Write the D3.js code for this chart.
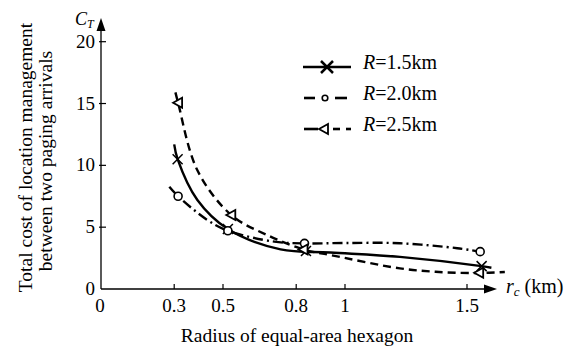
<!DOCTYPE html>
<html><head><meta charset="utf-8">
<script src="https://cdn.jsdelivr.net/npm/d3@7"></script>
<style>body{margin:0;background:#fff}svg{display:block}</style>
</head><body><svg id="c" width="588" height="350"></svg>
<script>
// Tick values
const xTicks = [0, 0.3, 0.5, 0.8, 1, 1.5];
const xTickLabels = ["0", "0.3", "0.5", "0.8", "1", "1.5"];
const yTicks = [0, 5, 10, 15, 20];
// Series names
const seriesNames = ["1.5km", "2.0km", "2.5km"];
// Marker values (radius, cost) per series
const markR15 = [[0.314, 10.5], [0.52, 4.85], [0.84, 3.07], [1.56, 1.85]];
const markR20 = [[0.316, 7.5], [0.52, 4.71], [0.834, 3.69], [1.554, 3.02]];
const markR25 = [[0.316, 15.06], [0.534, 5.98], [0.83, 3.2], [1.55, 1.32]];
// Fitted curve values
const curveR15 = [[0.30, 11.7], [0.314, 10.5], [0.395, 7.2], [0.52, 4.85], [0.736, 3.2], [0.94, 2.95], [1.225, 2.6], [1.56, 1.85], [1.6, 1.72]];
const curveR20 = [[0.28, 8.27], [0.316, 7.5], [0.436, 5.58], [0.52, 4.71], [0.71, 3.83], [0.834, 3.69], [1.0, 3.72], [1.225, 3.7], [1.46, 3.3], [1.554, 3.02]];
const curveR25 = [[0.305, 15.9], [0.316, 15.06], [0.395, 9.6], [0.534, 5.98], [0.68, 4.37], [0.83, 3.2], [0.94, 2.75], [1.225, 1.67], [1.4, 1.36], [1.55, 1.3], [1.655, 1.37]];

const FONT = "Liberation Serif";
const svg = d3.select("#c");
const x = d3.scaleLinear().domain([0, 1.6]).range([101, 101 + 1.6 * 244]);
const y = d3.scaleLinear().domain([0, 20]).range([289, 41.7]);

function txt(sel) { return sel.append("text").attr("font-family", FONT).attr("fill", "#000"); }

// axes lines
const g = svg.append("g");
g.append("line").attr("x1", x(0)).attr("x2", 490).attr("y1", y(0)).attr("y2", y(0)).attr("stroke", "#000").attr("stroke-width", 1.3);
g.append("path").attr("d", `M497,${y(0)} L484,${y(0) - 4.5} L484,${y(0) + 4.5} Z`).attr("fill", "#000");
g.append("line").attr("x1", x(0)).attr("x2", x(0)).attr("y1", y(0)).attr("y2", 26).attr("stroke", "#000").attr("stroke-width", 1.3);
g.append("path").attr("d", `M${x(0)},18 L${x(0) - 4.5},31 L${x(0) + 4.5},31 Z`).attr("fill", "#000");

// ticks
xTicks.forEach((t, i) => {
  if (t > 0) g.append("line").attr("x1", x(t)).attr("x2", x(t)).attr("y1", y(0)).attr("y2", y(0) - 5).attr("stroke", "#000").attr("stroke-width", 1.2);
  txt(g).attr("x", x(t) - (t === 0 ? 1 : 0)).attr("y", 312).attr("text-anchor", "middle").attr("font-size", 19).text(xTickLabels[i]);
});
yTicks.forEach(t => {
  if (t > 0) g.append("line").attr("x1", x(0) - 2).attr("x2", x(0) + 5).attr("y1", y(t)).attr("y2", y(t)).attr("stroke", "#000").attr("stroke-width", 1.2);
  txt(g).attr("x", 95).attr("y", y(t) + 6).attr("text-anchor", "end").attr("font-size", 19).text(t);
});

// axis labels
const ct = txt(g).attr("x", 75).attr("y", 25).attr("font-size", 18);
ct.append("tspan").attr("font-style", "italic").text("C");
ct.append("tspan").attr("font-style", "italic").attr("font-size", 12).attr("dy", 3).text("T");

const rc = txt(g).attr("x", 506).attr("y", 293).attr("font-size", 20);
rc.append("tspan").attr("font-style", "italic").text("r");
rc.append("tspan").attr("font-style", "italic").attr("font-size", 13).attr("dy", 3).text("c");
rc.append("tspan").attr("dy", -3).text(" (km)");

txt(g).attr("x", 297).attr("y", 342).attr("text-anchor", "middle").attr("font-size", 19.5).text("Radius of equal-area hexagon");
txt(g).attr("transform", "translate(32,157.5) rotate(-90)").attr("text-anchor", "middle").attr("font-size", 19.5).text("Total cost of location management");
txt(g).attr("transform", "translate(52,161) rotate(-90)").attr("text-anchor", "middle").attr("font-size", 19.5).text("between two paging arrivals");

// series
const line = d3.line().x(d => x(d[0])).y(d => y(d[1])).curve(d3.curveCatmullRom.alpha(0.5));
const styles = [
  { curve: curveR15, marks: markR15, dash: null, m: "x" },
  { curve: curveR20, marks: markR20, dash: "10,4,2,4", m: "o" },
  { curve: curveR25, marks: markR25, dash: "8,5", m: "t" }
];
function marker(sel, type, cx, cy, big) {
  if (type === "x") {
    const s = big ? 6 : 5;
    sel.append("path").attr("d", `M${cx - s},${cy - s}L${cx + s},${cy + s}M${cx - s},${cy + s}L${cx + s},${cy - s}`).attr("stroke", "#000").attr("stroke-width", big ? 2.5 : 1.5).attr("fill", "none");
  } else if (type === "o") {
    sel.append("circle").attr("cx", cx).attr("cy", cy).attr("r", big ? 2.8 : 4).attr("fill", "#fff").attr("stroke", "#000").attr("stroke-width", 1.6);
  } else {
    sel.append("path").attr("d", `M${cx - 5},${cy}L${cx + 4},${cy - 5}L${cx + 4},${cy + 5}Z`).attr("fill", "#fff").attr("stroke", "#000").attr("stroke-width", 1.8);
  }
}
styles.forEach(s => {
  const p = svg.append("path").datum(s.curve).attr("d", line).attr("fill", "none").attr("stroke", "#000").attr("stroke-width", 2.4);
  if (s.dash) p.attr("stroke-dasharray", s.dash);
  s.marks.forEach(d => marker(svg, s.m, x(d[0]), y(d[1]), false));
});

// legend
const legY = [67, 98, 129];
const legSegs = [[[303, 351]], [[304, 315], [335, 347]], [[304, 318], [333, 340], [346, 351]]];
styles.forEach((s, i) => {
  legSegs[i].forEach(sg => svg.append("line").attr("x1", sg[0]).attr("x2", sg[1]).attr("y1", legY[i]).attr("y2", legY[i]).attr("stroke", "#000").attr("stroke-width", 2.6));
  marker(svg, s.m, i === 2 ? 324 : (i === 1 ? 325 : 327), legY[i], true);
  const t = txt(svg).attr("x", 363).attr("y", legY[i] + 1.5).attr("font-size", 20);
  t.append("tspan").attr("font-style", "italic").text("R");
  t.append("tspan").text("=" + seriesNames[i]);
});
</script></body></html>
